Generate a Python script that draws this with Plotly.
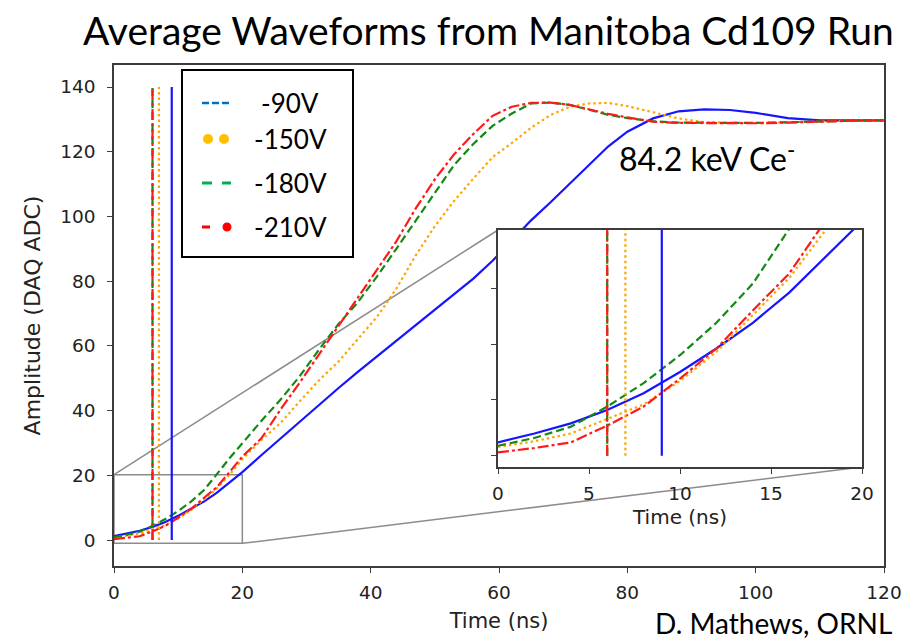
import plotly.graph_objects as go

W, H = 902, 641

# ---------------- data ----------------
time_ns = [0, 2, 4, 6, 8, 10, 12, 14, 16, 18, 20, 23, 26, 29, 32, 35, 38, 41, 44, 47,
           50, 53, 56, 59, 62, 65, 68, 71, 74, 77, 80, 84, 88, 92, 96, 100, 105, 110, 115, 120]

amp_90V = [1.2, 2.0, 2.9, 4.1, 5.6, 7.5, 9.6, 11.9, 14.6, 17.8, 21.0,
           26.3, 31.5, 36.8, 42.0, 47.0, 52.0, 56.8, 61.5, 66.3, 71.0, 75.8, 80.8, 86.3,
           92.6, 98.8, 104.3, 110.0, 116.0, 121.6, 126.2,
           130.3, 132.5, 133.1, 132.9, 132.0, 130.4, 129.7, 129.7, 129.7]
amp_150V = [0.8, 1.3, 2.0, 3.3, 4.6, 6.7, 9.3, 12.6, 15.9, 20.2, 25.0,
            31.0, 36.3, 43.0, 49.5, 55.2, 62.0, 69.0, 77.7, 87.9, 97.0, 104.8, 111.7, 118.3,
            122.7, 127.4, 131.3, 133.9, 134.9, 135.1, 134.1,
            132.3, 130.3, 129.1, 128.9, 128.9, 129.1, 129.4, 129.6, 129.7]
amp_180V = [0.9, 1.6, 2.6, 4.4, 6.5, 9.0, 11.9, 15.4, 20.3, 25.3, 29.9,
            36.9, 43.5, 50.8, 59.0, 66.8, 73.5, 81.5, 90.0, 98.7, 107.2, 115.9, 122.4, 128.0,
            131.8, 134.9, 135.2, 134.5, 133.0, 131.4, 130.4,
            129.4, 129.0, 128.9, 128.9, 128.9, 129.1, 129.4, 129.6, 129.7]
amp_210V = [0.3, 0.7, 1.2, 2.7, 4.4, 6.9, 9.6, 13.0, 16.3, 21.0, 25.8,
            31.5, 40.5, 48.8, 57.5, 66.2, 74.7, 83.2, 92.3, 102.4, 111.5, 119.2, 125.5, 131.1,
            133.9, 135.1, 135.2, 134.5, 133.0, 131.7, 130.6,
            129.3, 128.9, 128.8, 128.8, 128.8, 129.0, 129.4, 129.6, 129.7]

series_names = ["-90V", "-150V", "-180V", "-210V"]
series_values = [amp_90V, amp_150V, amp_180V, amp_210V]
series_colors = ["#1515ff", "#ffa500", "#138a13", "#ff1a1a"]
series_dash = ["solid", "2.5px,3px", "8px,4px", "11px,3px,3px,3px"]

# vertical marker lines (time markers per bias)
marker_times = [9, 7, 6, 6]
marker_low, marker_high = 0, 140

x_ticks = [0, 20, 40, 60, 80, 100, 120]
y_ticks = [0, 20, 40, 60, 80, 100, 120, 140]
inset_x_ticks = [0, 5, 10, 15, 20]
inset_y_ticks = [0, 5, 10, 15]

legend_labels = ["-90V", "-150V", "-180V", "-210V"]
legend_colors = ["#0070C0", "#FFC000", "#00B050", "#FF0000"]

# ---------------- geometry (pixels) ----------------
MX0, MX1, MYT, MYB = 114, 884, 65, 566
MXR, MYR = [0, 120], [-8.0, 146.8]
IX0, IX1, IYT, IYB = 498, 862, 230, 467
IXR, IYR = [0, 20], [-1.0, 20.2]


def px(x):
    return x / W


def py(y):
    return 1 - y / H


def main_to_pix(t, a):
    xp = MX0 + (t - MXR[0]) / (MXR[1] - MXR[0]) * (MX1 - MX0)
    yp = MYB - (a - MYR[0]) / (MYR[1] - MYR[0]) * (MYB - MYT)
    return xp, yp


MPL_FONT = "DejaVu Sans, sans-serif"
PPT_FONT = "Lato, Open Sans, sans-serif"
AX_COLOR = "#3c3c3c"
TXT_COLOR = "#222222"

fig = go.Figure()

for ax_x, ax_y in [("x", "y"), ("x2", "y2")]:
    for name, vals, col, dash in zip(series_names, series_values, series_colors, series_dash):
        fig.add_trace(go.Scatter(x=time_ns, y=vals, mode="lines", name=name,
                                 line=dict(color=col, width=2.2, dash=dash),
                                 xaxis=ax_x, yaxis=ax_y, showlegend=False,
                                 hoverinfo="skip"))
    for mt, col, dash in zip(marker_times, series_colors, series_dash):
        fig.add_trace(go.Scatter(x=[mt, mt], y=[marker_low, marker_high], mode="lines",
                                 line=dict(color=col, width=2.2, dash=dash),
                                 xaxis=ax_x, yaxis=ax_y, showlegend=False,
                                 hoverinfo="skip"))

axis_common = dict(showgrid=False, zeroline=False, showline=True, mirror=True,
                   automargin=False, ticklabeloverflow="allow",
                   linecolor=AX_COLOR, linewidth=1.5, ticks="outside", ticklen=5,
                   tickwidth=1.3, tickcolor=AX_COLOR,
                   tickfont=dict(family=MPL_FONT, size=18.5, color=TXT_COLOR))

fig.update_layout(
    width=W, height=H, autosize=False,
    margin=dict(l=0, r=0, t=0, b=0, autoexpand=False),
    paper_bgcolor="white", plot_bgcolor="white",
    showlegend=False,
    xaxis=dict(domain=[px(MX0), px(MX1)], range=MXR, tickvals=x_ticks, ticklabelstandoff=4,
               title=dict(text="Time (ns)", font=dict(family=MPL_FONT, size=21, color=TXT_COLOR),
                          standoff=11),
               anchor="y", **axis_common),
    yaxis=dict(domain=[py(MYB), py(MYT)], range=MYR, tickvals=y_ticks, ticklabelstandoff=8,
               title=dict(text="Amplitude (DAQ ADC)", font=dict(family=MPL_FONT, size=22, color=TXT_COLOR),
                          standoff=14),
               anchor="x", **axis_common),
    xaxis2=dict(domain=[px(IX0), px(IX1)], range=IXR, tickvals=inset_x_ticks, ticklabelstandoff=4,
                title=dict(text="Time (ns)", font=dict(family=MPL_FONT, size=20, color=TXT_COLOR),
                           standoff=7),
                anchor="y2", **axis_common),
    yaxis2=dict(domain=[py(IYB), py(IYT)], range=IYR, tickvals=inset_y_ticks,
                showticklabels=False, anchor="x2", **axis_common),
)

# zoom rectangle on main axes
fig.add_shape(type="rect", xref="x", yref="y", x0=IXR[0], x1=IXR[1], y0=IYR[0], y1=IYR[1],
              line=dict(color="#8c8c8c", width=1.5), layer="below")

# connector lines from zoom box corners to inset corners
c1 = main_to_pix(IXR[0], IYR[1])
c2 = main_to_pix(IXR[1], IYR[0])
for (sx, sy), (ex, ey) in [(c1, (IX0, IYT)), (c2, (IX1, IYB))]:
    fig.add_shape(type="line", xref="paper", yref="paper",
                  x0=px(sx), y0=py(sy), x1=px(ex), y1=py(ey),
                  line=dict(color="#8c8c8c", width=1.5), layer="below")

# ---------------- custom legend box ----------------
fig.add_shape(type="rect", xref="paper", yref="paper",
              x0=px(182), x1=px(353), y0=py(257), y1=py(70),
              line=dict(color="black", width=2), fillcolor="white", layer="above")

row_y = [103, 139, 183, 227]
# -90V : three short dashes
fig.add_shape(type="line", xref="paper", yref="paper", x0=px(202), x1=px(230),
              y0=py(row_y[0]), y1=py(row_y[0]),
              line=dict(color=legend_colors[0], width=2.5, dash="7px,3px"), layer="above")
# -150V : two dots
for cx in [208, 224]:
    fig.add_shape(type="circle", xref="paper", yref="paper",
                  x0=px(cx - 5), x1=px(cx + 5), y0=py(row_y[1] + 5), y1=py(row_y[1] - 5),
                  line=dict(width=0), fillcolor=legend_colors[1], layer="above")
# -180V : two dashes
for a, b in [(202, 212), (222, 231)]:
    fig.add_shape(type="line", xref="paper", yref="paper", x0=px(a), x1=px(b),
                  y0=py(row_y[2]), y1=py(row_y[2]),
                  line=dict(color=legend_colors[2], width=3), layer="above")
# -210V : dash + dot
fig.add_shape(type="line", xref="paper", yref="paper", x0=px(202), x1=px(210),
              y0=py(row_y[3]), y1=py(row_y[3]),
              line=dict(color=legend_colors[3], width=3), layer="above")
fig.add_shape(type="circle", xref="paper", yref="paper",
              x0=px(227 - 4.5), x1=px(227 + 4.5), y0=py(row_y[3] + 4.5), y1=py(row_y[3] - 4.5),
              line=dict(width=0), fillcolor=legend_colors[3], layer="above")

annotations = []
for lab, yy in zip(legend_labels, row_y):
    annotations.append(dict(text=lab, xref="paper", yref="paper", x=px(290), y=py(yy),
                            xanchor="center", yanchor="middle", showarrow=False,
                            font=dict(family=PPT_FONT, size=26, color="black")))

annotations.append(dict(text="Average Waveforms from Manitoba Cd109 Run", xref="paper", yref="paper",
                        x=px(488), y=py(30), xanchor="center", yanchor="middle", showarrow=False,
                        font=dict(family=PPT_FONT, size=39, color="black")))
annotations.append(dict(text="84.2 keV Ce<sup>-</sup>", xref="paper", yref="paper",
                        x=px(617), y=py(157), xanchor="left", yanchor="middle", showarrow=False,
                        font=dict(family=PPT_FONT, size=32, color="black")))
annotations.append(dict(text="D. Mathews, ORNL", xref="paper", yref="paper",
                        x=px(894), y=py(623), xanchor="right", yanchor="middle", showarrow=False,
                        font=dict(family=PPT_FONT, size=28, color="black")))
fig.update_layout(annotations=annotations)

fig.write_html("out.html")
